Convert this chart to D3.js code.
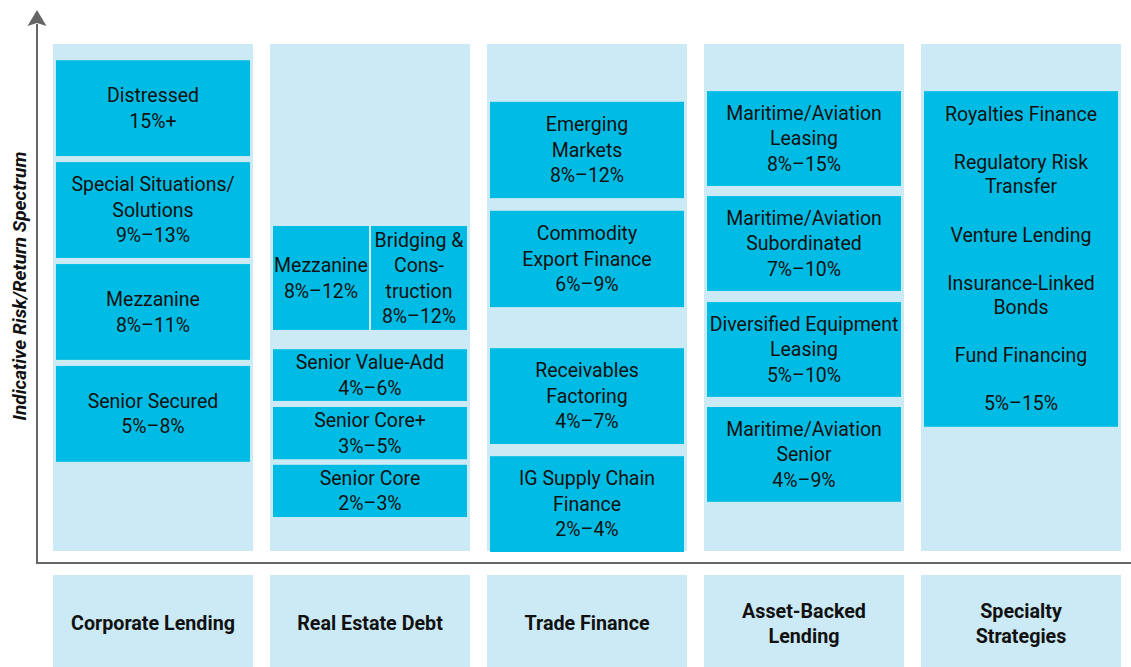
<!DOCTYPE html>
<html>
<head>
<meta charset="utf-8">
<script src="https://cdn.jsdelivr.net/npm/d3@7"></script>
<style>
  body { margin: 0; background: #fff; }
  svg { display: block; font-family: Roboto, "Noto Sans", sans-serif; }
</style>
</head>
<body>
<div id="chart"></div>
<script>
// strategy families along the bottom
var categories = ["Corporate Lending", "Real Estate Debt", "Trade Finance", "Asset-Backed Lending", "Specialty Strategies"];
var headerLines = [["Corporate Lending"], ["Real Estate Debt"], ["Trade Finance"], ["Asset-Backed", "Lending"], ["Specialty", "Strategies"]];

// boxes per family: label lines, return range, lo/hi on the indicative risk scale (0-100)
var corporateBoxes = [
  {lines: ["Distressed"], range: "15%+", lo: 77.9, hi: 96.8},
  {lines: ["Special Situations/", "Solutions"], range: "9%–13%", lo: 57.8, hi: 76.7},
  {lines: ["Mezzanine"], range: "8%–11%", lo: 37.7, hi: 56.6},
  {lines: ["Senior Secured"], range: "5%–8%", lo: 17.6, hi: 36.5}
];
var realEstateBoxes = [
  {lines: ["Mezzanine"], range: "8%–12%", lo: 43.6, hi: 64.1, part: "left"},
  {lines: ["Bridging &", "Cons-", "truction"], range: "8%–12%", lo: 43.6, hi: 64.1, part: "right"},
  {lines: ["Senior Value-Add"], range: "4%–6%", lo: 29.6, hi: 39.8},
  {lines: ["Senior Core+"], range: "3%–5%", lo: 18.1, hi: 28.4},
  {lines: ["Senior Core"], range: "2%–3%", lo: 6.7, hi: 17.0}
];
var tradeBoxes = [
  {lines: ["Emerging", "Markets"], range: "8%–12%", lo: 69.6, hi: 88.6},
  {lines: ["Commodity", "Export Finance"], range: "6%–9%", lo: 48.1, hi: 67.1},
  {lines: ["Receivables", "Factoring"], range: "4%–7%", lo: 21.1, hi: 40.0},
  {lines: ["IG Supply Chain", "Finance"], range: "2%–4%", lo: -0.2, hi: 18.7}
];
var assetBackedBoxes = [
  {lines: ["Maritime/Aviation", "Leasing"], range: "8%–15%", lo: 72.0, hi: 90.7},
  {lines: ["Maritime/Aviation", "Subordinated"], range: "7%–10%", lo: 51.3, hi: 70.0},
  {lines: ["Diversified Equipment", "Leasing"], range: "5%–10%", lo: 30.4, hi: 49.1},
  {lines: ["Maritime/Aviation", "Senior"], range: "4%–9%", lo: 9.7, hi: 28.4}
];
var specialtyBoxes = [
  {lines: ["Royalties Finance", "", "Regulatory Risk", "Transfer", "", "Venture Lending", "",
           "Insurance-Linked", "Bonds", "", "Fund Financing", ""], range: "5%–15%", lo: 24.5, hi: 90.7, tight: true}
];
var boxesByCategory = [corporateBoxes, realEstateBoxes, tradeBoxes, assetBackedBoxes, specialtyBoxes];

var width = 1131, height = 667;
var axisX = 37, axisY = 563;
var inset = 3;

var svg = d3.select("#chart").append("svg")
  .attr("width", width)
  .attr("height", height);

var x = d3.scaleBand()
  .domain(categories)
  .range([53, 1121])
  .paddingInner(17 / 217);

var y = d3.scaleLinear()
  .domain([0, 100])
  .range([551, 44]);

// light column backgrounds
svg.append("g").selectAll("rect")
  .data(categories)
  .enter().append("rect")
  .attr("x", function(d) { return x(d); })
  .attr("y", y(100))
  .attr("width", x.bandwidth())
  .attr("height", y(0) - y(100))
  .attr("fill", "#cbeaf5");

// header boxes
var headers = svg.append("g").selectAll("g")
  .data(categories)
  .enter().append("g");

headers.append("rect")
  .attr("x", function(d) { return x(d); })
  .attr("y", 575)
  .attr("width", x.bandwidth())
  .attr("height", 100)
  .attr("fill", "#cbeaf5");

headers.each(function(d, i) {
  var lines = headerLines[i];
  var g = d3.select(this);
  lines.forEach(function(line, j) {
    g.append("text")
      .attr("x", x(d) + x.bandwidth() / 2)
      .attr("y", 623.5 + (j - (lines.length - 1) / 2) * 25)
      .attr("dy", "0.35em")
      .attr("text-anchor", "middle")
      .attr("font-size", 19.7)
      .attr("font-weight", "bold")
      .attr("fill", "#111")
      .text(line);
  });
});

// strategy boxes
boxesByCategory.forEach(function(boxes, ci) {
  var cat = categories[ci];
  var x0 = x(cat) + inset, w = x.bandwidth() - 2 * inset;

  var g = svg.append("g").selectAll("g")
    .data(boxes)
    .enter().append("g");

  function bx(d) {
    if (d.part == "right") return x0 + (w + 2) / 2;
    return x0;
  }
  function bw(d) { return d.part ? (w - 2) / 2 : w; }

  g.append("rect")
    .attr("x", bx)
    .attr("y", function(d) { return y(d.hi); })
    .attr("width", bw)
    .attr("height", function(d) { return y(d.lo) - y(d.hi); })
    .attr("fill", "#00bce4");

  g.each(function(d) {
    var lines = d.lines.concat([d.range]);
    var lh = d.tight ? 24.1 : 25.5;
    var cx = bx(d) + bw(d) / 2;
    var cy = (y(d.hi) + y(d.lo)) / 2;
    var sel = d3.select(this);
    lines.forEach(function(line, j) {
      if (!line) return;
      sel.append("text")
        .attr("x", cx)
        .attr("y", cy + (j - (lines.length - 1) / 2) * lh)
        .attr("dy", "0.35em")
        .attr("text-anchor", "middle")
        .attr("font-size", 19.5)
        .attr("fill", "#111")
        .text(line);
    });
  });
});

// axes with arrow
svg.append("path")
  .attr("d", "M" + axisX + ",24V" + axisY + "H" + width)
  .attr("fill", "none")
  .attr("stroke", "#666")
  .attr("stroke-width", 2);

svg.append("path")
  .attr("d", "M" + axisX + ",10L" + (axisX + 9.5) + ",26L" + axisX + ",23L" + (axisX - 9.5) + ",26Z")
  .attr("fill", "#666");

svg.append("text")
  .attr("transform", "translate(19.5,286) rotate(-90)")
  .attr("dy", "0.35em")
  .attr("text-anchor", "middle")
  .attr("font-size", 19)
  .attr("font-weight", "bold")
  .attr("font-style", "italic")
  .attr("fill", "#111")
  .text("Indicative Risk/Return Spectrum");
</script>
</body>
</html>
